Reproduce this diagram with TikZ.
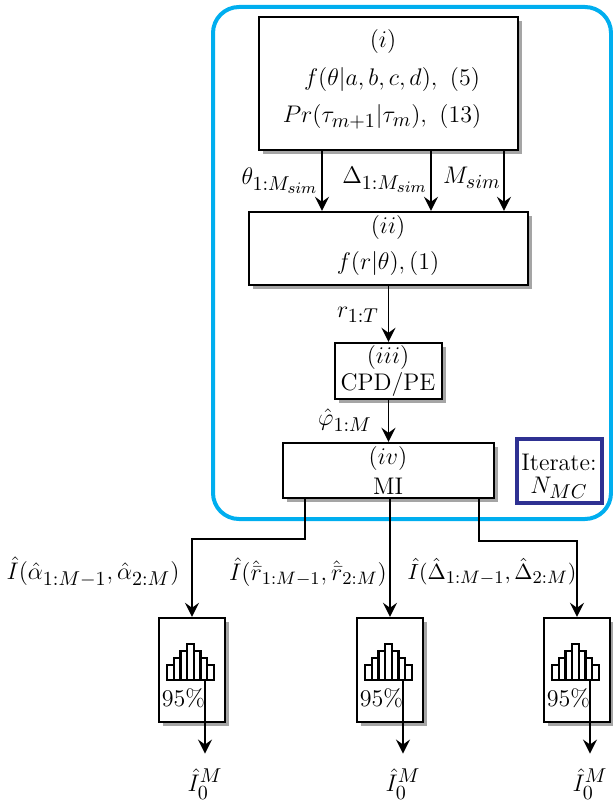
\documentclass[tikz,border=0pt]{standalone}
\usetikzlibrary{arrows.meta,shadows}
\definecolor{cyanline}{HTML}{00AEEF}
\definecolor{navyline}{HTML}{2E3192}
\DeclareMathSizes{13}{13}{10.4}{8.2}
\DeclareMathSizes{12.5}{12.5}{10}{7.8}
\DeclareMathSizes{12}{12}{9.4}{7.4}
\DeclareMathSizes{11}{11}{8.7}{6.8}
\begin{document}
\begin{tikzpicture}[x=0.5pt,y=-0.5pt,
 every node/.style={font=\fontsize{12}{14}\selectfont, inner sep=0pt},
 mth/.style={font=\fontsize{13}{15}\selectfont},
 mths/.style={font=\fontsize{12.5}{15}\selectfont},
 box/.style={draw=black, line width=1.2pt, fill=white,
   drop shadow={shadow xshift=1.8pt, shadow yshift=-1.8pt, fill=black!70, opacity=0.5}},
 arr/.style={line width=0.9pt, -{Stealth[length=7pt,width=7pt,inset=2.5pt]}},
 bigfont/.style={font=\fontsize{13}{15}\selectfont},
]
\useasboundingbox (0,0) rectangle (613,802);
% iteration frame
\draw[line width=2pt, draw=cyanline, rounded corners=13pt] (213,7) rectangle (611,519);

% main boxes
\node[box, minimum width=129.5pt, minimum height=66.5pt] (i) at (388.5,83.5) {};
\node[mth] (ti1) at (383,42) {$(i)$};
\node[mth] (ti2) at (392,80) {$f(\theta|a,b,c,d),\ (5)$};
\node[mth] (ti3) at (382,117) {$Pr(\tau_{m+1}|\tau_m),\ (13)$};

\node[box, minimum width=139.5pt, minimum height=36.5pt] (ii) at (388.5,248.5) {};
\node[mth] (tii1) at (388,228) {$(ii)$};
\node[mth] (tii2) at (388,263) {$f(r|\theta),(1)$};

\node[box, minimum width=53.5pt, minimum height=28pt] (iii) at (388.5,371) {};
\node[mth] (tiii1) at (388,357) {$(iii)$};
\node (tiii2) at (388,384) {CPD/PE};

\node[box, minimum width=105.5pt, minimum height=27.5pt] (iv) at (388.5,470.5) {};
\node[mth] (tiv1) at (388,458) {$(iv)$};
\node (tiv2) at (388,486) {MI};

\node[draw=navyline, line width=1.8pt, minimum width=42.5pt, minimum height=32pt] (it) at (559.5,471) {};
\node (tit1) at (559,462) {Iterate:};
\node[mth] (tit2) at (559,488) {$N_{MC}$};

% arrows from (i) to (ii)
\draw[arr] ([xshift=-33.25pt]i.south) -- ([xshift=-33.25pt]i.south |- ii.north);
\draw[arr] ([xshift=21.25pt]i.south) -- ([xshift=21.25pt]i.south |- ii.north);
\draw[arr] ([xshift=57.75pt]i.south) -- ([xshift=57.75pt]i.south |- ii.north);
\node[mth] (l1) at (280,181) {$\theta_{1:M_{sim}}$};
\node[mth] (l2) at (385,180) {$\Delta_{1:M_{sim}}$};
\node[mth] (l3) at (472,178) {$M_{sim}$};

\draw[arr] (ii.south) -- (iii.north);
\node[mth] (l4) at (358,315) {$r_{1:T}$};
\draw[arr] (iii.south) -- (iv.north);
\node[mth] (l5) at (345,420) {$\hat{\varphi}_{1:M}$};

% histogram boxes
\foreach \L/\n in {159/1,357/2,544/3}{
  \node[box, minimum width=33pt, minimum height=52pt] (h\n) at (\L+33,670) {};
  \foreach \k/\hh in {0/15,1/22,2/29,3/36,4/29,5/22,6/15}{
    \draw[line width=1.1pt] (\L+8+\k*6.7,680) rectangle ++(6.7,-\hh);
  }
  \node (p\n) at (\L+24.5,698) {95\%};
  \coordinate (s\n) at (\L+46,680);
  \node[bigfont] (o\n) at (\L+46,784) {$\hat{I}_0^M$};
  \draw[arr, shorten >=7.5pt] (s\n) -- (o\n.north);
}

% branches from (iv)
\draw[arr] ([xshift=-41.75pt]iv.south) -- ++(0,40) -| (h1.north);
\draw[arr] (h2.north |- iv.south) -- (h2.north);
\draw[arr] ([xshift=45.25pt]iv.south) -- ++(0,42) -| (h3.north);
\node[mths] (l6) at (93,572) {$\hat{I}(\hat{\alpha}_{1:M-1},\hat{\alpha}_{2:M})$};
\node[font=\fontsize{12}{14}\selectfont] (l7) at (308,572) {$\hat{I}(\hat{\bar{r}}_{1:M-1},\hat{\bar{r}}_{2:M})$};
\node[font=\fontsize{11}{14}\selectfont] (l8) at (492,572) {$\hat{I}(\hat{\Delta}_{1:M-1},\hat{\Delta}_{2:M})$};
\end{tikzpicture}
\end{document}
